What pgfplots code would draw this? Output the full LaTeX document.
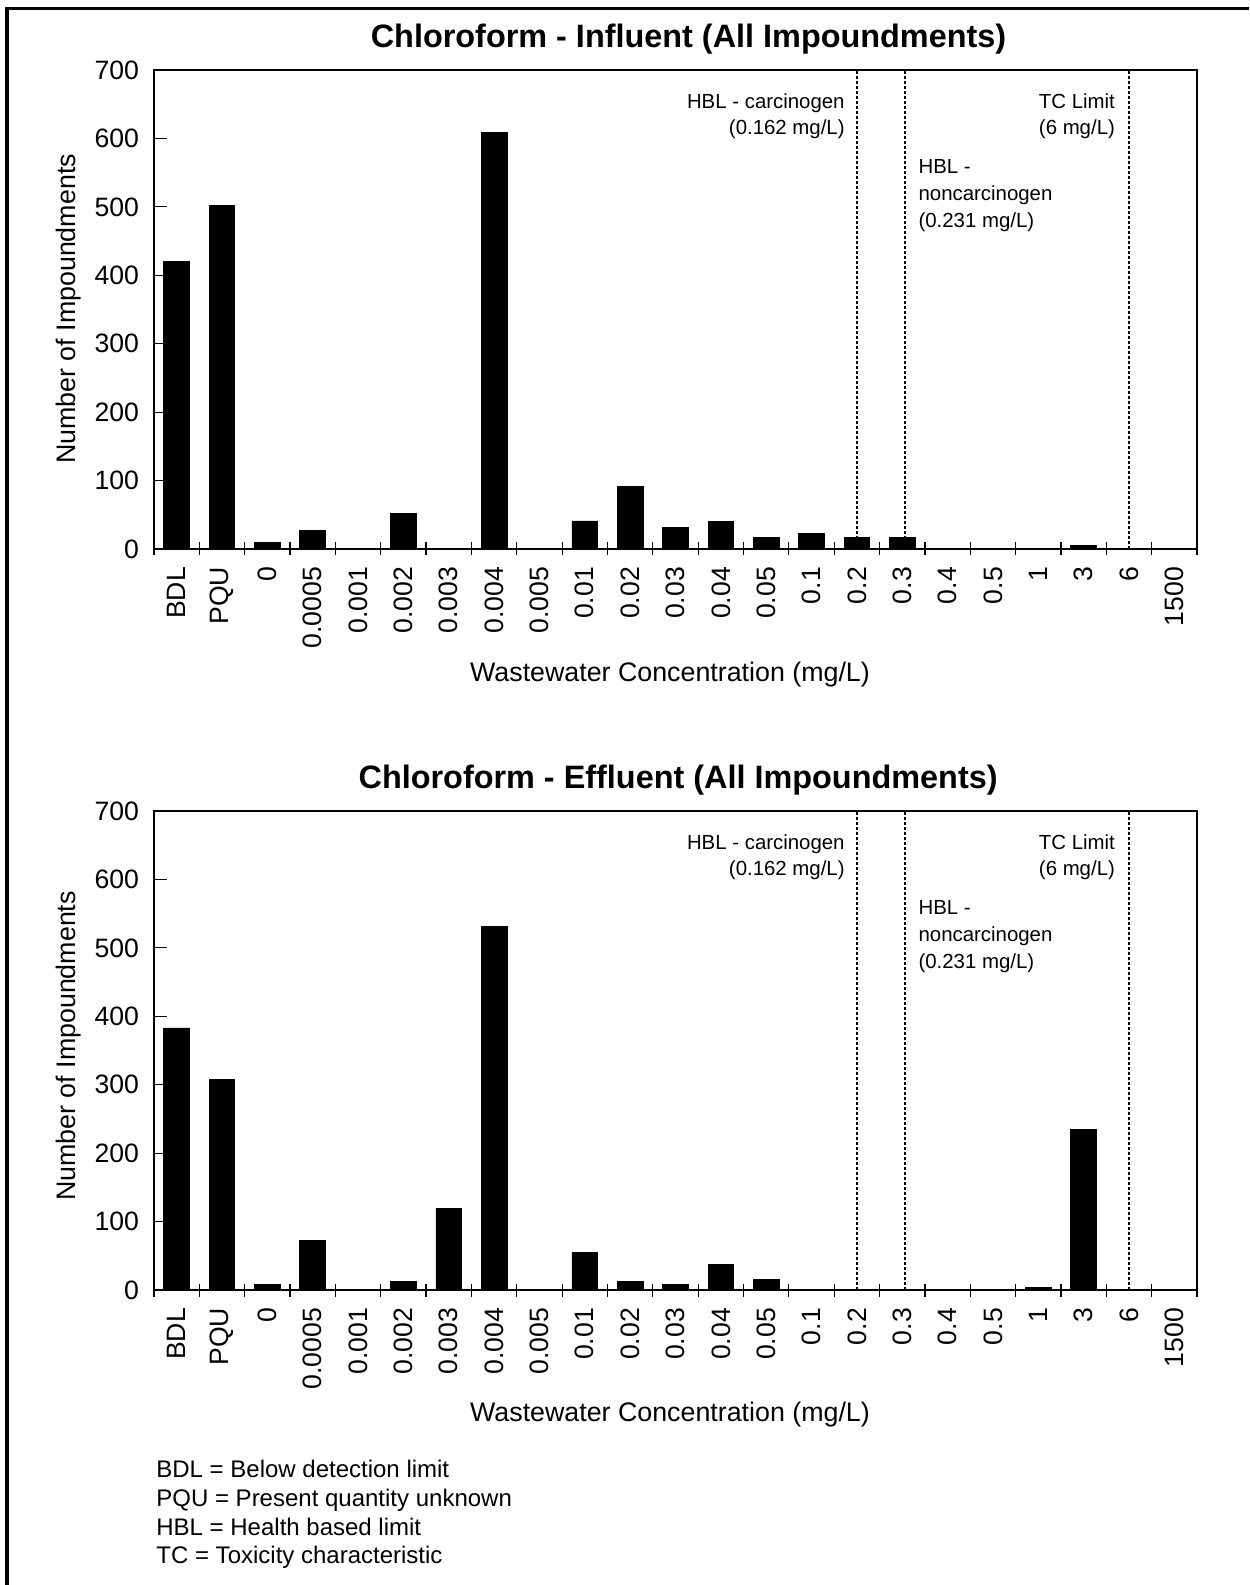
\documentclass[border=0pt]{standalone}
\usepackage{pgfplots}
\pgfplotsset{compat=1.18}
\usepackage{fontspec}
\setmainfont{Liberation Sans}
\begin{document}
\begin{tikzpicture}
\pgfplotsset{
  chl/.style={
    width=521.5pt, height=239.5pt, scale only axis,
    xmin=-0.5, xmax=22.5, ymin=0, ymax=700,
    ytick={0,100,...,700},
    xtick={-0.5,0.5,...,22.5},
    x tick label as interval,
    xticklabels={BDL,PQU,0,0.0005,0.001,0.002,0.003,0.004,0.005,0.01,0.02,0.03,0.04,0.05,0.1,0.2,0.3,0.4,0.5,1,3,6,1500},
    xticklabel style={yshift=-5.5pt, rotate=90, anchor=east, font=\fontsize{13.3}{16}\selectfont},
    yticklabel style={xshift=-4pt, font=\fontsize{13.3}{16}\selectfont},
    /pgf/number format/assume math mode=true,
    xtick pos=bottom, ytick pos=left,
    tick align=inside,
    major tick length=6.5pt,
    x tick style={yshift=-3.25pt},
    every tick/.style={black, line width=0.6pt},
    axis line style={line width=0.6pt},
    title style={font=\fontsize{16.2}{19}\selectfont\bfseries, at={(0.5,1)}, anchor=center, yshift=9.3pt},
    clip=false,
  },
  lim/.style={black, line width=1pt, dash pattern=on 1.6pt off 0.9pt},
  bars/.style={ybar, bar width=12.85pt, bar shift=0pt, fill=black, draw=black},
}
\tikzset{ann/.style={font=\fontsize{10.2}{12}\selectfont}}
\path[use as bounding box] (0,0) rectangle (624.5pt,-792.5pt);
\draw[line width=1.6pt] (3.5pt,-792.5pt) -- (3.5pt,-4.25pt) -- (624.5pt,-4.25pt);

% ---------- Top chart ----------
\begin{axis}[chl, at={(77pt,-35pt)}, anchor=north west,
  title={Chloroform - Influent (All Impoundments)},
  title style={xshift=6.5pt}]
\addplot[lim] coordinates {(15,0) (15,700)};
\addplot[lim] coordinates {(16.05,0) (16.05,700)};
\addplot[lim] coordinates {(21,0) (21,700)};
\addplot[bars] coordinates {
(0,420) (1,502) (2,9) (3,27) (4,0) (5,52) (6,0) (7,609) (8,0) (9,41)
(10,91) (11,31) (12,40) (13,17) (14,23) (15,17) (16,17) (17,0) (18,0)
(19,0) (20,5) (21,0) (22,0)};
\node[ann, anchor=base east, xshift=-2.6pt] at (axis cs:15,644) {HBL - carcinogen};
\node[ann, anchor=base east, xshift=-2.6pt] at (axis cs:15,606) {(0.162 mg/L)};
\node[ann, anchor=base east, xshift=-3.5pt] at (axis cs:21,644) {TC Limit};
\node[ann, anchor=base east, xshift=-3.5pt] at (axis cs:21,606) {(6 mg/L)};
\node[ann, anchor=base west, xshift=3.5pt] at (axis cs:16.05,549) {HBL -};
\node[ann, anchor=base west, xshift=3.5pt] at (axis cs:16.05,510) {noncarcinogen};
\node[ann, anchor=base west, xshift=3.5pt] at (axis cs:16.05,470) {(0.231 mg/L)};
\end{axis}
\node[font=\fontsize{13.4}{16}\selectfont] at (335pt,-337.5pt) {Wastewater Concentration (mg/L)};
\node[rotate=90, font=\fontsize{13.4}{16}\selectfont] at (34.5pt,-154.5pt) {Number of Impoundments};

% ---------- Bottom chart ----------
\begin{axis}[chl, at={(77pt,-405.5pt)}, anchor=north west,
  title={Chloroform - Effluent (All Impoundments)},
  title style={xshift=1.3pt}]
\addplot[lim] coordinates {(15,0) (15,700)};
\addplot[lim] coordinates {(16.05,0) (16.05,700)};
\addplot[lim] coordinates {(21,0) (21,700)};
\addplot[bars] coordinates {
(0,383) (1,308) (2,8) (3,73) (4,0) (5,12) (6,119) (7,531) (8,0) (9,55)
(10,12) (11,8) (12,37) (13,15) (14,0) (15,0) (16,0) (17,0) (18,0)
(19,4) (20,235) (21,0) (22,0)};
\node[ann, anchor=base east, xshift=-2.6pt] at (axis cs:15,644) {HBL - carcinogen};
\node[ann, anchor=base east, xshift=-2.6pt] at (axis cs:15,606) {(0.162 mg/L)};
\node[ann, anchor=base east, xshift=-3.5pt] at (axis cs:21,644) {TC Limit};
\node[ann, anchor=base east, xshift=-3.5pt] at (axis cs:21,606) {(6 mg/L)};
\node[ann, anchor=base west, xshift=3.5pt] at (axis cs:16.05,549) {HBL -};
\node[ann, anchor=base west, xshift=3.5pt] at (axis cs:16.05,510) {noncarcinogen};
\node[ann, anchor=base west, xshift=3.5pt] at (axis cs:16.05,470) {(0.231 mg/L)};
\end{axis}
\node[font=\fontsize{13.4}{16}\selectfont] at (335pt,-707.5pt) {Wastewater Concentration (mg/L)};
\node[rotate=90, font=\fontsize{13.4}{16}\selectfont] at (34.5pt,-523pt) {Number of Impoundments};

% ---------- Footnotes ----------
\begin{scope}[every node/.style={anchor=base west, font=\fontsize{12}{14}\selectfont, inner sep=0pt}]
\node at (78pt,-738.5pt) {BDL = Below detection limit};
\node at (78pt,-753pt) {PQU = Present quantity unknown};
\node at (78pt,-767.5pt) {HBL = Health based limit};
\node at (78pt,-781.5pt) {TC = Toxicity characteristic};
\end{scope}
\end{tikzpicture}
\end{document}
